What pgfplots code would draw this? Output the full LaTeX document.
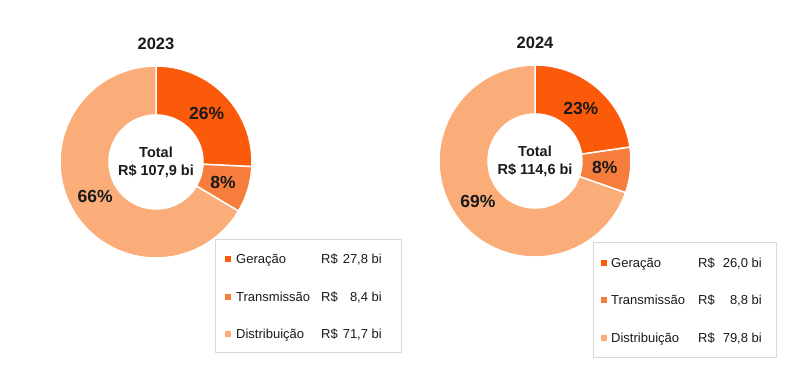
\documentclass[border=0pt]{standalone}
\usepackage{pgfplots}
\pgfplotsset{compat=1.18}
\usepackage{pgfplotstable}
\usetikzlibrary{calc}
\usepackage{fontspec}
\setmainfont{Liberation Sans}
\definecolor{cGer}{HTML}{FA5A0A}
\definecolor{cTra}{HTML}{F77D3C}
\definecolor{cDis}{HTML}{FAAD78}
\definecolor{cTxt}{HTML}{1A1A1A}
\definecolor{cBox}{HTML}{D9D9D9}

% 2023 (R$ bi)
\pgfplotstableread{
seg value pct
Geracao 27.8 26
Transmissao 8.4 8
Distribuicao 71.7 66
}\dataA
% 2024 (R$ bi)
\pgfplotstableread{
seg value pct
Geracao 26.0 23
Transmissao 8.8 8
Distribuicao 79.8 69
}\dataB

\newcommand\Rout{96bp}
\newcommand\Rin{47bp}
\newcommand\Rlab{70bp}
\newcommand\donutwedge[3]{%
  \fill[#1, draw=white, line width=1.5bp]
    ($(axis cs:0,0)+(#2:\Rout)$) arc[start angle=#2, end angle=#3, radius=\Rout]
    -- ($(axis cs:0,0)+(#3:\Rin)$) arc[start angle=#3, end angle=#2, radius=\Rin] -- cycle;}
\newcommand\readdonut[1]{%
  \pgfplotstablegetelem{0}{value}\of#1\pgfmathsetmacro\vA{\pgfplotsretval}%
  \pgfplotstablegetelem{1}{value}\of#1\pgfmathsetmacro\vB{\pgfplotsretval}%
  \pgfplotstablegetelem{2}{value}\of#1\pgfmathsetmacro\vC{\pgfplotsretval}%
  \pgfplotstablegetelem{0}{pct}\of#1\edef\pA{\pgfplotsretval}%
  \pgfplotstablegetelem{1}{pct}\of#1\edef\pB{\pgfplotsretval}%
  \pgfplotstablegetelem{2}{pct}\of#1\edef\pC{\pgfplotsretval}%
  \pgfmathsetmacro\tot{\vA+\vB+\vC}%
  \pgfmathsetmacro\angA{90-360*(\vA/\tot)}%
  \pgfmathsetmacro\angB{\angA-360*(\vB/\tot)}%
  \pgfmathsetmacro\angC{\angB-360*(\vC/\tot)}%
  \pgfmathsetmacro\midA{(90+\angA)/2}%
  \pgfmathsetmacro\midB{(\angA+\angB)/2}%
  \pgfmathsetmacro\midC{(\angB+\angC)/2}%
}
\pgfplotsset{donut/.style={hide axis, scale only axis, width=192bp, height=192bp,
  xmin=-1, xmax=1, ymin=-1, ymax=1, clip=false, anchor=center}}
\tikzset{pct/.style={font=\fontsize{17.5bp}{20bp}\selectfont\bfseries, text=cTxt},
  ctr/.style={font=\fontsize{14.5bp}{18bp}\selectfont\bfseries, text=cTxt, align=center},
  ttl/.style={font=\fontsize{16.5bp}{20bp}\selectfont\bfseries, text=cTxt},
  leg/.style={font=\fontsize{13bp}{15bp}\selectfont, text=cTxt, inner sep=0pt}}

\begin{document}
\begin{tikzpicture}[x=1bp, y=1bp]
\useasboundingbox (0,0) rectangle (787,366);

% ---------- 2023 ----------
\readdonut{\dataA}
\begin{axis}[donut, at={(156bp,204bp)}]
  \donutwedge{cGer}{90}{\angA}
  \donutwedge{cTra}{\angA}{\angB}
  \donutwedge{cDis}{\angB}{\angC}
  \node[pct] at ($(axis cs:0,0)+(\midA:\Rlab)$) {\pA\%};
  \node[pct] at ($(axis cs:0,0)+(\midB:\Rlab)$) {\pB\%};
  \node[pct] at ($(axis cs:0,0)+(\midC:\Rlab)$) {\pC\%};
  \node[ctr] at (axis cs:0,0) {Total\\R\$ 107,9 bi};
\end{axis}
\node[ttl] at (156,322) {2023};
\draw[cBox, line width=0.8bp, fill=white] (215,14) rectangle (401,127);
\fill[cGer] (225,104) rectangle (231,110);
\fill[cTra] (225,66) rectangle (231,72);
\fill[cDis] (225,29) rectangle (231,35);
\node[leg, anchor=base west] at (236,102.6) {Geração};
\node[leg, anchor=base west] at (236,64.6) {Transmissão};
\node[leg, anchor=base west] at (236,27.6) {Distribuição};
\node[leg, anchor=base west] at (321,102.6) {R\$};
\node[leg, anchor=base west] at (321,64.6) {R\$};
\node[leg, anchor=base west] at (321,27.6) {R\$};
\node[leg, anchor=base east] at (382,102.6) {27,8 bi};
\node[leg, anchor=base east] at (382,64.6) {8,4 bi};
\node[leg, anchor=base east] at (382,27.6) {71,7 bi};

% ---------- 2024 ----------
\readdonut{\dataB}
\begin{axis}[donut, at={(535bp,205bp)}]
  \donutwedge{cGer}{90}{\angA}
  \donutwedge{cTra}{\angA}{\angB}
  \donutwedge{cDis}{\angB}{\angC}
  \node[pct] at ($(axis cs:0,0)+(\midA:\Rlab)$) {\pA\%};
  \node[pct] at ($(axis cs:0,0)+(\midB:\Rlab)$) {\pB\%};
  \node[pct] at ($(axis cs:0,0)+(\midC:\Rlab)$) {\pC\%};
  \node[ctr] at (axis cs:0,0) {Total\\R\$ 114,6 bi};
\end{axis}
\node[ttl] at (535,323) {2024};
\draw[cBox, line width=0.8bp, fill=white] (593,9) rectangle (776,124);
\fill[cGer] (601,100) rectangle (607,106);
\fill[cTra] (601,63) rectangle (607,69);
\fill[cDis] (601,25) rectangle (607,31);
\node[leg, anchor=base west] at (611,98.6) {Geração};
\node[leg, anchor=base west] at (611,61.6) {Transmissão};
\node[leg, anchor=base west] at (611,23.6) {Distribuição};
\node[leg, anchor=base west] at (698,98.6) {R\$};
\node[leg, anchor=base west] at (698,61.6) {R\$};
\node[leg, anchor=base west] at (698,23.6) {R\$};
\node[leg, anchor=base east] at (762,98.6) {26,0 bi};
\node[leg, anchor=base east] at (762,61.6) {8,8 bi};
\node[leg, anchor=base east] at (762,23.6) {79,8 bi};
\end{tikzpicture}
\end{document}
